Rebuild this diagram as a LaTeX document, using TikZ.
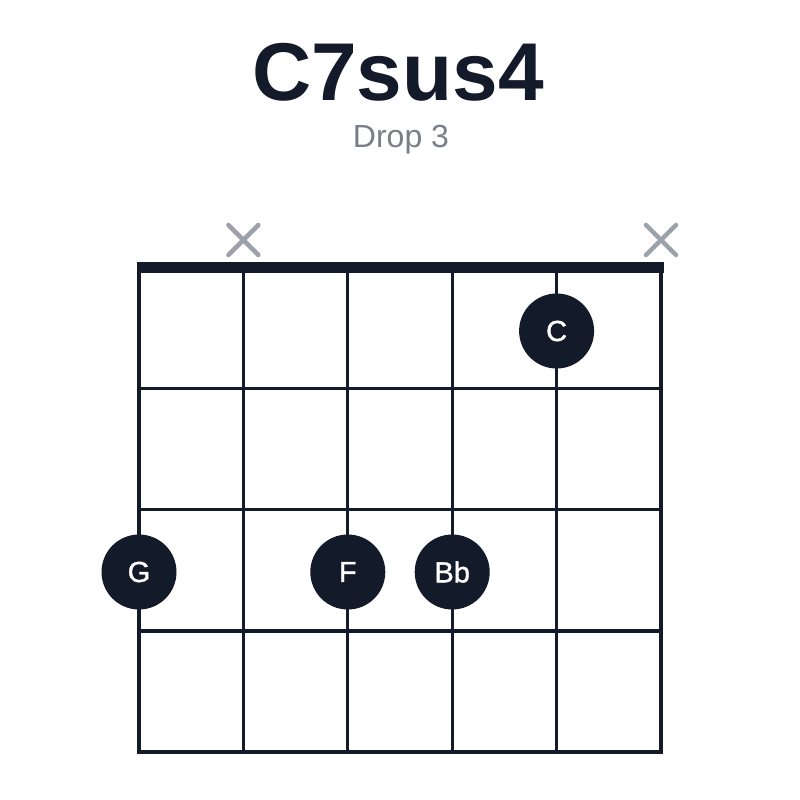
\documentclass[tikz,border=0pt]{standalone}
\usepackage{fontspec}
\setmainfont{Liberation Sans}
\newfontfamily\labelfont[FakeBold=1.2]{Liberation Sans}
\definecolor{ink}{HTML}{131A29}
\definecolor{xgray}{HTML}{9DA1A9}
\definecolor{subgray}{HTML}{7A7E87}
\tikzset{
  grid line/.style={ink, line width=3.2pt},
  nut/.style={ink, line width=11.5pt},
  mute/.style={xgray, line width=4.5pt, line cap=round},
  finger/.style={circle, fill=ink, minimum size=75pt, inner sep=0pt, text=white, font=\labelfont\fontsize{29}{29}\selectfont},
}
\newcommand{\fl}[1]{\raisebox{-2.5pt}{#1}}
\begin{document}
\begin{tikzpicture}[x=1pt,y=-1pt]
\useasboundingbox (0,0) rectangle (800,800);
% title
\node[anchor=base, text=ink, inner sep=0pt, font=\fontsize{82}{82}\bfseries\selectfont] (title) at (398,100) {C7sus4};
\node[anchor=base, text=subgray, inner sep=0pt, font=\fontsize{32}{32}\selectfont] (sub) at (401,147) {Drop 3};
% grid
\foreach \x in {139,243.4,347.8,452.2,556.6,661} {
  \draw[grid line] (\x,267) -- (\x,752);
}
\foreach \y in {388.6,509.8,631,752} {
  \draw[grid line] (137.4,\y) -- (662.6,\y);
}
\draw[nut] (136.5,267.5) -- (663.5,267.5);
% mutes
\foreach \x in {243.4,661} {
  \draw[mute] (\x-15,225) -- (\x+15,255);
  \draw[mute] (\x-15,255) -- (\x+15,225);
}
% fingers
\node[finger] (c) at (556.6,331) {\fl{C}};
\node[finger] (g) at (139,572) {\fl{G}};
\node[finger] (f) at (347.8,572) {\fl{F}};
\node[finger] (bb) at (452.2,572) {\fl{Bb}};
\end{tikzpicture}
\end{document}
